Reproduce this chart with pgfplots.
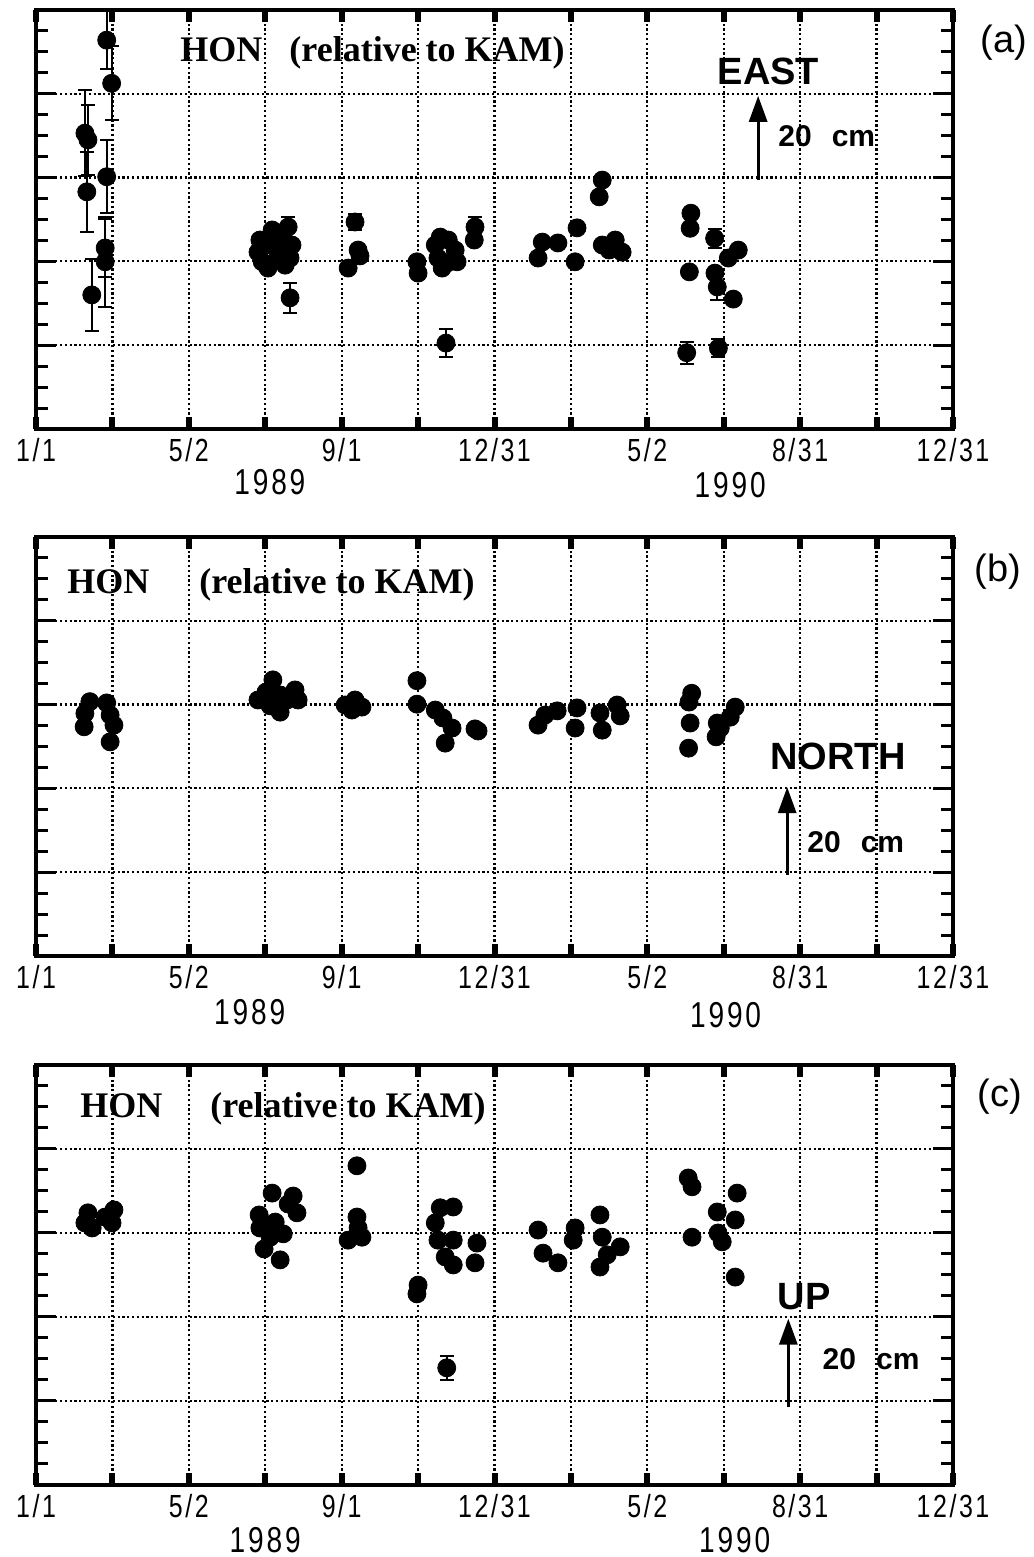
\documentclass[border=0pt]{standalone}
\usepackage{fontspec}
\setmainfont{Liberation Serif}
\newfontfamily\hel{Liberation Sans}
\newfontfamily\tickfont[FakeStretch=0.78,LetterSpace=8]{Liberation Sans}
\usepackage{pgfplots}
\pgfplotsset{compat=1.18}
\usetikzlibrary{arrows.meta}

\tikzset{
  hon/.style={anchor=base west, inner sep=0pt, font=\fontsize{18}{20}\selectfont\bfseries},
  dirlab/.style={anchor=base west, inner sep=0pt, font=\hel\bfseries\fontsize{19}{22}\selectfont},
  cmlab/.style={anchor=base west, inner sep=0pt, font=\hel\bfseries\fontsize{15}{18}\selectfont},
  panlab/.style={anchor=center, font=\hel\fontsize{19}{22}\selectfont},
  year/.style={anchor=center, font=\tickfont\fontsize{18}{20}\selectfont},
  arr/.style={line width=1.5pt, -{Triangle[length=13pt,width=9pt]}},
}
\pgfplotsset{
  panel/.style={
    scale only axis, width=458.5pt, height=209.5pt, anchor=south west,
    xmin=0, xmax=24, ymin=0, ymax=100, clip=false,
    axis line style={line width=2pt},
    tick pos=both, tick align=inside,
    xtick={0,2,...,24},
    xticklabels={1/1,,5/2,,9/1,,12/31,,5/2,,8/31,,12/31},
    xticklabel style={font=\tickfont\fontsize{16}{18}\selectfont, yshift=-1pt},
    xtick style={black, line width=3pt, /pgfplots/major tick length=6pt},
    ytick={20,40,60,80}, yticklabels={},
    minor ytick={5,10,15,25,30,35,45,50,55,65,70,75,85,90,95},
    ytick style={black, line width=1.5pt},
    major tick length=10pt, minor tick length=6pt,
    xmajorgrids, ymajorgrids,
    grid style={black, line width=1.1pt, dash pattern=on 1.1pt off 1.3pt},
  },
  dot/.style={only marks, mark=*, mark size=4.5pt, mark options={fill=black, draw=black}},
  ebar/.style={dot, error bars/.cd, y dir=both, y explicit,
    error bar style={line width=1pt, black},
    error mark options={rotate=90, mark size=3.5pt, line width=1pt, black}},
}

\begin{document}
\begin{tikzpicture}
\useasboundingbox (0,0) rectangle (516.5pt,778.5pt);

% (a) east
\begin{axis}[panel, at={(18pt,564pt)}]
\addplot[ebar] coordinates {
 (1.85,92.8) +- (0,7)
 (1.98,82.5) +- (0,8.8)
 (1.28,70.6) +- (0,10.3)
 (1.36,69.0) +- (0,8.4)
 (1.33,56.6) +- (0,9.5)
 (1.85,60.2) +- (0,8.7)
 (1.81,43.2) +- (0,6.9)
 (1.81,39.9) +- (0,10.7)
 (1.46,32.0) +- (0,8.6)
 (6.65,31.3) +- (0,3.5)
 (6.60,48.2) +- (0,2.5)
 (8.35,49.4) +- (0,2)
 (10.73,20.5) +- (0,3.3)
 (11.49,48.2) +- (0,2.5)
 (17.76,45.5) +- (0,2.3)
 (17.83,33.9) +- (0,3)
 (17.03,18.2) +- (0,2.6)
 (17.86,19.3) +- (0,2.2)
};
\addplot[dot] coordinates {
 (5.81,42.2) (5.86,45.1) (5.92,39.9) (6.07,38.4) (6.13,43.9) (6.18,47.5)
 (6.34,41.5) (6.44,45.1) (6.52,39.1) (6.70,43.9) (6.65,40.8)
 (8.17,38.4) (8.43,42.7) (8.48,41.3)
 (9.97,39.9) (10.0,37.2) (10.45,43.9) (10.58,45.8) (10.79,45.1) (10.97,42.7)
 (10.52,40.8) (10.76,39.6) (11.02,39.9) (10.63,38.4) (11.47,45.1)
 (13.25,44.6) (13.14,40.8) (13.66,44.4) (14.16,48.0) (14.11,39.9) (14.82,59.4)
 (14.74,55.4) (14.82,43.9) (15.16,45.1) (15.34,42.2) (15.0,42.7)
 (17.14,51.5) (17.12,47.9) (17.10,37.5) (18.12,40.8) (18.38,42.7) (17.77,37.2) (18.25,31.0)
};
\node[hon] at (axis cs:3.77,87.6) {HON\hspace{13.5pt}(relative to KAM)};
\node[dirlab] at (axis cs:17.83,82.1) {EAST};
\draw[arr] (axis cs:18.9,59.4) -- (axis cs:18.9,79.5);
\node[cmlab] at (axis cs:19.42,67.3) {20\hspace{10pt}cm};
\node[panlab] at ([xshift=25.5pt,yshift=-16.5pt]rel axis cs:1,1) {(a)};
\node[year] at ([yshift=-26.5pt]rel axis cs:0.255,0) {1989};
\node[year] at ([yshift=-28pt]rel axis cs:0.757,0) {1990};
\end{axis}

% (b) north
\begin{axis}[panel, at={(18pt,300.5pt)}]
\addplot[dot] coordinates {
 (1.41,60.7) (1.28,57.9) (1.26,54.7) (1.85,60.4) (1.94,57.5) (2.04,55.1) (1.94,51.1)
 (5.81,61.1) (6.02,63.0) (6.20,65.9) (6.39,62.3) (6.57,61.1) (6.78,63.5) (6.13,59.7)
 (6.39,58.2) (6.86,61.1)
 (8.09,59.9) (8.35,61.1) (8.53,59.4) (8.27,58.7)
 (9.97,65.7) (9.97,60.1) (10.45,58.7) (10.65,56.8) (10.89,54.4) (10.71,50.8)
 (11.49,54.2) (11.57,53.7)
 (13.14,55.1) (13.32,57.5) (13.64,58.5) (14.16,59.2) (14.11,54.4) (14.76,58.0)
 (14.82,53.9) (15.21,59.9) (15.29,57.3)
 (17.16,62.7) (17.09,60.6) (17.12,55.6) (17.08,49.6) (17.83,55.6) (17.80,52.3)
 (17.91,54.4) (18.30,59.4) (18.17,57.0)
};
\node[hon] at (axis cs:0.81,86.6) {HON\hspace{25pt}(relative to KAM)};
\node[dirlab] at (axis cs:19.21,44.4) {NORTH};
\draw[arr] (axis cs:19.66,19.3) -- (axis cs:19.66,40.3);
\node[cmlab] at (axis cs:20.18,24.8) {20\hspace{10pt}cm};
\node[panlab] at ([xshift=22.5pt,yshift=-17.5pt]rel axis cs:1,1) {(b)};
\node[year] at ([yshift=-28pt]rel axis cs:0.233,0) {1989};
\node[year] at ([yshift=-29.5pt]rel axis cs:0.752,0) {1990};
\end{axis}

% (c) up
\begin{axis}[panel, at={(18pt,36pt)}, height=210pt]
\addplot[ebar] coordinates {
 (10.75,27.9) +- (0,2.9)
};
\addplot[dot] coordinates {
 (1.36,64.8) (1.28,62.4) (1.47,61.2) (1.81,63.8) (2.04,65.5) (1.99,62.4)
 (6.18,69.5) (6.73,68.8) (6.83,64.8) (5.84,64.3) (5.86,61.2) (6.13,59.0) (6.47,59.8)
 (5.97,56.2) (6.39,53.6) (6.26,62.6) (6.60,66.9) (6.02,61.2)
 (8.40,76.0) (8.40,63.8) (8.43,61.2) (8.17,58.3) (8.53,59.0)
 (10.0,47.6) (9.97,45.5) (10.58,66.0) (10.92,66.2) (10.45,62.4) (10.52,58.3)
 (10.92,58.3) (10.71,54.3) (10.92,52.4) (11.54,57.6) (11.49,52.9)
 (13.14,60.7) (13.27,55.2) (13.66,52.9) (14.11,61.2) (14.06,58.3) (14.76,64.3)
 (14.82,59.0) (14.76,51.9) (15.29,56.7) (14.95,54.8)
 (17.07,73.1) (17.17,71.0) (17.17,59.0) (17.83,65.0) (18.35,69.5) (18.30,63.1)
 (17.85,60.0) (17.96,57.9) (18.30,49.5)
};
\node[hon] at (axis cs:1.15,87.6) {HON\hspace{24pt}(relative to KAM)};
\node[dirlab] at (axis cs:19.4,41.7) {UP};
\draw[arr] (axis cs:19.69,18.6) -- (axis cs:19.69,39.6);
\node[cmlab] at (axis cs:20.58,27.4) {20\hspace{10pt}cm};
\node[panlab] at ([xshift=23.5pt,yshift=-16pt]rel axis cs:1,1) {(c)};
\node[year] at ([yshift=-27.5pt]rel axis cs:0.25,0) {1989};
\node[year] at ([yshift=-27.5pt]rel axis cs:0.762,0) {1990};
\end{axis}
\end{tikzpicture}
\end{document}
